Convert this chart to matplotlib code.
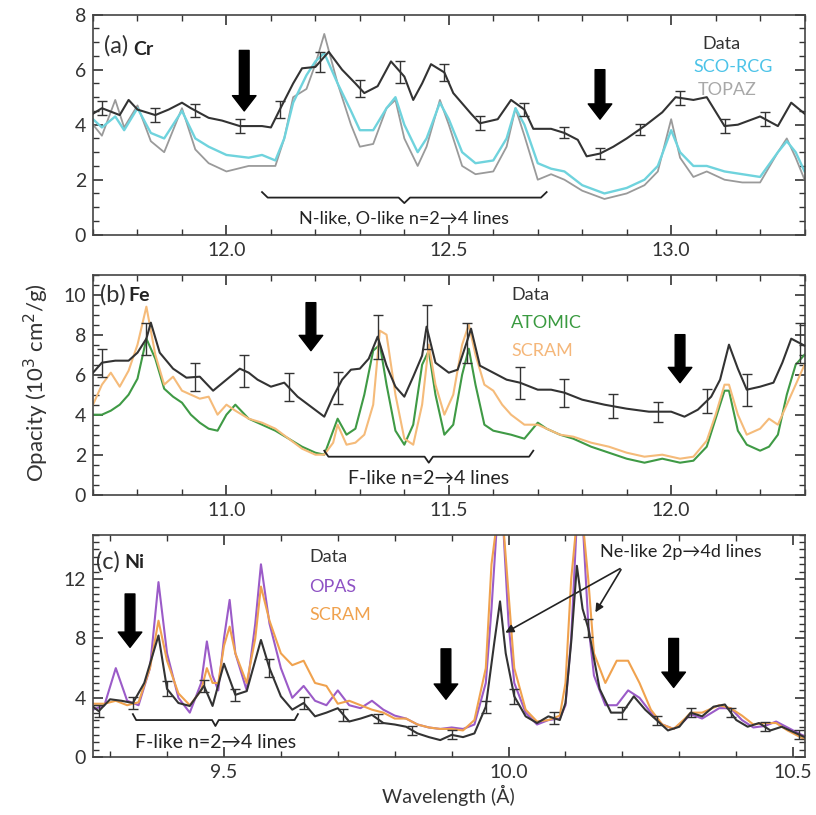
import numpy as np
import matplotlib
matplotlib.use("Agg")
from matplotlib import pyplot as plt
from matplotlib.ticker import MultipleLocator

plt.rcParams['font.family'] = ['Lato', 'DejaVu Sans']

##################################
# DATA
##################################
# (a) Cr
cr_data_x = [11.70, 11.72, 11.76, 11.78, 11.80, 11.84, 11.87, 11.90, 11.92, 11.96, 11.99, 12.03,
             12.08, 12.10, 12.12, 12.15, 12.17, 12.20, 12.23, 12.26, 12.29, 12.31, 12.34, 12.37,
             12.40, 12.42, 12.44, 12.46, 12.49, 12.51, 12.55, 12.57, 12.61, 12.64, 12.67, 12.69,
             12.73, 12.76, 12.79, 12.81, 12.84, 12.87, 12.90, 12.94, 12.98, 13.01, 13.05, 13.08,
             13.12, 13.15, 13.20, 13.24, 13.27, 13.30]
cr_data_y = [4.4, 4.6, 4.35, 4.9, 4.55, 4.35, 4.55, 4.8, 4.6, 4.25, 4.15, 3.95,
             3.95, 3.9, 4.55, 5.5, 6.05, 6.1, 6.65, 6.0, 5.5, 5.15, 5.4, 6.3,
             5.75, 4.9, 5.5, 6.2, 5.9, 5.15, 4.4, 4.05, 4.2, 4.9, 4.55, 3.85,
             3.85, 3.7, 3.45, 2.85, 2.95, 3.2, 3.5, 3.95, 4.45, 5.0, 4.9, 5.0,
             3.95, 4.0, 4.3, 3.95, 4.8, 4.4]
cr_err_x = [11.72, 11.84, 11.93, 12.03, 12.12, 12.21, 12.30, 12.39, 12.49, 12.57, 12.67, 12.76,
            12.84, 12.93, 13.02, 13.12, 13.21]
cr_err = [0.25, 0.25, 0.25, 0.25, 0.3, 0.35, 0.3, 0.4, 0.3, 0.25, 0.25, 0.2,
          0.2, 0.2, 0.25, 0.25, 0.25]

cr_x = [11.70, 11.72, 11.75, 11.77, 11.80, 11.83, 11.86, 11.90, 11.93, 11.96, 12.00, 12.05,
        12.08, 12.11, 12.13, 12.15, 12.18, 12.20, 12.22, 12.25, 12.28, 12.30, 12.33, 12.36,
        12.38, 12.40, 12.43, 12.45, 12.48, 12.50, 12.53, 12.56, 12.60, 12.63, 12.65, 12.67,
        12.70, 12.73, 12.76, 12.80, 12.85, 12.90, 12.94, 12.97, 13.00, 13.02, 13.05, 13.08,
        13.12, 13.16, 13.20, 13.24, 13.26, 13.28, 13.30]
cr_scorcg = [4.2, 3.9, 4.3, 3.8, 4.6, 3.7, 3.5, 4.5, 3.5, 3.2, 2.9, 2.8,
             2.9, 2.7, 3.5, 4.8, 5.8, 6.3, 6.6, 5.5, 4.5, 3.8, 3.8, 4.6,
             5.0, 4.0, 3.0, 3.5, 4.8, 4.2, 3.0, 2.6, 2.7, 3.5, 4.6, 4.0,
             2.6, 2.4, 2.3, 1.8, 1.5, 1.7, 2.0, 2.5, 3.8, 3.0, 2.5, 2.5,
             2.3, 2.2, 2.1, 3.0, 3.4, 3.0, 2.3]
cr_topaz = [4.0, 3.6, 4.9, 3.9, 4.7, 3.4, 3.0, 4.6, 3.1, 2.6, 2.3, 2.5,
            2.5, 2.5, 3.5, 5.0, 5.3, 6.2, 7.3, 5.5, 4.0, 3.2, 3.3, 4.6,
            4.9, 3.5, 2.5, 3.2, 4.9, 4.0, 2.5, 2.2, 2.3, 3.2, 4.6, 3.6,
            2.0, 2.2, 2.0, 1.6, 1.3, 1.5, 1.8, 2.3, 4.2, 2.8, 2.1, 2.3,
            2.0, 1.9, 1.9, 3.0, 3.5, 2.8, 2.0]

# (b) Fe
fe_data_x = [10.70, 10.72, 10.75, 10.78, 10.80, 10.82, 10.83, 10.85, 10.88, 10.91, 10.94, 10.97,
             11.00, 11.03, 11.05, 11.07, 11.10, 11.13, 11.16, 11.19, 11.22, 11.24, 11.26, 11.28,
             11.30, 11.32, 11.34, 11.36, 11.38, 11.40, 11.42, 11.44, 11.45, 11.47, 11.50, 11.52,
             11.54, 11.55, 11.57, 11.60, 11.63, 11.66, 11.70, 11.73, 11.76, 11.80, 11.85, 11.90,
             11.95, 12.00, 12.03, 12.06, 12.09, 12.11, 12.13, 12.15, 12.17, 12.20, 12.23, 12.25,
             12.27, 12.30]
fe_data_y = [6.1, 6.6, 6.7, 6.7, 7.1, 7.8, 8.6, 7.1, 6.3, 5.85, 5.9, 5.2,
             5.75, 6.3, 6.1, 5.75, 5.4, 5.6, 4.9, 4.4, 3.9, 4.9, 5.75, 6.25,
             6.3, 6.8, 7.9, 6.45, 5.4, 4.9, 5.9, 6.95, 8.4, 6.6, 6.1, 6.25,
             7.6, 8.3, 6.45, 6.1, 5.75, 5.6, 5.25, 5.25, 5.1, 4.75, 4.5, 4.3,
             4.15, 4.15, 3.9, 4.25, 4.9, 5.75, 7.5, 6.3, 5.25, 5.4, 5.6, 6.6,
             7.8, 7.45]
fe_err_x = [10.72, 10.82, 10.93, 11.04, 11.14, 11.25, 11.34, 11.45, 11.54, 11.66, 11.76, 11.87,
            11.97, 12.08, 12.17, 12.29]
fe_err = [0.7, 0.8, 0.7, 0.8, 0.7, 0.8, 1.1, 1.1, 1.0, 0.8, 0.7, 0.6,
          0.5, 0.6, 0.8, 1.0]

fe_x = [10.70, 10.72, 10.74, 10.76, 10.78, 10.80, 10.82, 10.84, 10.86, 10.88, 10.90, 10.92,
        10.94, 10.96, 10.98, 11.00, 11.02, 11.05, 11.08, 11.11, 11.14, 11.17, 11.20, 11.22,
        11.24, 11.25, 11.27, 11.29, 11.31, 11.33, 11.345, 11.36, 11.38, 11.40, 11.42, 11.44,
        11.455, 11.47, 11.49, 11.51, 11.53, 11.545, 11.56, 11.58, 11.60, 11.62, 11.64, 11.67,
        11.70, 11.72, 11.75, 11.78, 11.82, 11.86, 11.90, 11.94, 11.98, 12.02, 12.05, 12.08,
        12.10, 12.12, 12.13, 12.15, 12.17, 12.20, 12.22, 12.24, 12.26, 12.28, 12.30]
fe_atomic = [4.0, 4.0, 4.2, 4.5, 5.0, 5.8, 7.8, 6.8, 5.3, 4.9, 4.6, 4.0,
             3.6, 3.3, 3.2, 4.0, 4.5, 3.8, 3.5, 3.2, 2.8, 2.4, 2.1, 2.0,
             3.2, 3.8, 3.0, 3.3, 5.0, 7.2, 7.5, 5.5, 3.2, 2.5, 3.5, 6.5,
             7.2, 5.0, 3.0, 3.5, 6.0, 7.3, 5.5, 3.5, 3.2, 3.1, 3.0, 2.8,
             3.6, 3.3, 3.0, 2.8, 2.4, 2.1, 1.8, 1.6, 1.8, 1.6, 1.7, 2.4,
             3.8, 5.2, 5.2, 3.2, 2.5, 2.2, 2.4, 3.0, 5.0, 6.5, 7.0]
fe_scram = [4.5, 5.5, 6.1, 5.4, 6.2, 7.5, 9.4, 7.0, 5.5, 5.9, 5.2, 5.0,
            4.8, 4.9, 4.0, 4.5, 4.2, 3.8, 3.6, 3.3, 2.8, 2.3, 2.0, 2.0,
            2.6, 3.5, 2.5, 2.6, 3.0, 4.5, 8.2, 8.0, 5.0, 2.8, 2.5, 4.5,
            7.5, 5.5, 4.0, 5.0, 7.5, 8.5, 7.0, 5.5, 5.2, 4.5, 4.0, 3.5,
            3.5, 3.3, 3.0, 2.9, 2.6, 2.4, 2.1, 1.9, 2.0, 1.8, 1.9, 2.7,
            4.0, 5.5, 5.5, 4.0, 3.0, 3.3, 3.8, 3.5, 4.5, 5.5, 6.5]

# (c) Ni
ni_data_x = [9.27, 9.28, 9.30, 9.32, 9.34, 9.36, 9.385, 9.40, 9.42, 9.44, 9.465, 9.48,
             9.50, 9.52, 9.54, 9.565, 9.58, 9.60, 9.62, 9.64, 9.66, 9.68, 9.70, 9.72,
             9.74, 9.76, 9.78, 9.80, 9.82, 9.84, 9.86, 9.88, 9.90, 9.92, 9.94, 9.96,
             9.975, 9.985, 9.995, 10.01, 10.03, 10.05, 10.07, 10.09, 10.10, 10.11, 10.12, 10.13,
             10.14, 10.16, 10.18, 10.20, 10.22, 10.24, 10.26, 10.28, 10.30, 10.32, 10.34, 10.36,
             10.38, 10.40, 10.42, 10.44, 10.46, 10.48, 10.50, 10.52]
ni_data_y = [3.4, 3.1, 3.9, 3.8, 3.65, 5.0, 8.2, 4.6, 3.65, 3.45, 4.8, 3.45,
             6.3, 4.2, 4.45, 7.9, 6.0, 4.1, 3.2, 3.65, 2.75, 3.0, 3.3, 2.4,
             2.6, 2.85, 2.3, 2.2, 2.05, 1.6, 1.35, 1.15, 1.5, 1.35, 1.6, 3.4,
             7.75, 10.5, 7.0, 4.1, 2.75, 2.3, 2.75, 2.5, 3.65, 7.75, 12.9, 10.0,
             8.7, 4.6, 3.0, 3.0, 4.1, 3.2, 2.5, 1.8, 2.05, 3.0, 2.75, 3.4,
             3.55, 2.5, 2.05, 2.3, 1.8, 2.05, 1.7, 1.35]
ni_err_x = [9.28, 9.34, 9.40, 9.465, 9.52, 9.58, 9.64, 9.71, 9.77, 9.83, 9.90, 9.96,
            10.01, 10.08, 10.14, 10.20, 10.26, 10.32, 10.39, 10.45, 10.51]
ni_err = [0.4, 0.4, 0.5, 0.4, 0.4, 0.6, 0.4, 0.4, 0.3, 0.3, 0.3, 0.4,
          0.5, 0.4, 0.6, 0.4, 0.3, 0.3, 0.3, 0.3, 0.3]

ni_x = [9.27, 9.29, 9.31, 9.33, 9.35, 9.37, 9.385, 9.40, 9.42, 9.44, 9.46, 9.47,
        9.48, 9.49, 9.50, 9.51, 9.52, 9.54, 9.555, 9.565, 9.58, 9.60, 9.62, 9.64,
        9.66, 9.68, 9.70, 9.72, 9.74, 9.76, 9.78, 9.80, 9.82, 9.84, 9.86, 9.88,
        9.90, 9.92, 9.94, 9.96, 9.97, 9.98, 9.99, 10.00, 10.01, 10.03, 10.05, 10.07,
        10.09, 10.10, 10.11, 10.12, 10.13, 10.14, 10.15, 10.17, 10.19, 10.21, 10.23, 10.25,
        10.27, 10.29, 10.31, 10.32, 10.34, 10.37, 10.39, 10.41, 10.43, 10.45, 10.47, 10.49,
        10.52]
ni_opas = [3.2, 3.5, 6.0, 3.8, 3.5, 6.0, 11.8, 7.0, 4.0, 3.0, 5.0, 7.8,
           5.5, 4.5, 8.0, 10.6, 7.0, 4.5, 9.0, 13.0, 9.0, 6.0, 4.0, 4.8,
           3.8, 3.5, 4.5, 3.5, 3.3, 3.8, 3.2, 2.8, 2.6, 2.2, 2.0, 1.9,
           2.0, 1.9, 2.2, 5.0, 10.0, 16.0, 16.0, 9.0, 5.0, 3.0, 2.2, 2.5,
           2.6, 3.5, 8.0, 16.0, 16.0, 9.0, 5.5, 3.5, 3.5, 4.5, 4.0, 3.0,
           2.2, 1.9, 2.5, 2.9, 2.6, 3.3, 3.3, 2.5, 2.0, 2.1, 2.4, 2.0,
           1.4]
ni_scram = [3.6, 3.6, 3.8, 3.5, 3.7, 6.0, 9.2, 6.5, 4.3, 3.5, 4.5, 6.0,
            5.0, 5.0, 7.5, 8.8, 7.0, 5.0, 8.0, 11.5, 9.2, 7.0, 6.2, 6.5,
            5.0, 4.8, 3.6, 3.8, 3.5, 3.2, 3.0, 2.6, 2.6, 2.2, 2.0, 1.9,
            1.9, 1.8, 2.5, 6.0, 13.0, 16.0, 16.0, 11.0, 6.0, 3.2, 2.4, 2.5,
            2.8, 5.0, 12.0, 16.0, 16.0, 12.0, 7.0, 5.0, 6.5, 6.5, 5.0, 3.2,
            2.2, 1.9, 2.6, 3.0, 3.0, 3.5, 3.3, 2.8, 2.2, 2.3, 2.3, 1.8,
            1.2]

DATA_C = '#333333'


def draw_data(ax, x, y, ex, err):
    ax.plot(x, y, color=DATA_C, lw=1.5, zorder=5)
    ey = np.interp(ex, x, y)
    ax.errorbar(ex, ey, yerr=err, fmt='none', ecolor=DATA_C, elinewidth=1.0,
                capsize=3.5, capthick=1.0, zorder=6)


def fat_arrow(ax, x, y0, y1):
    ax.annotate('', xy=(x, y1), xytext=(x, y0),
                arrowprops=dict(width=7, headwidth=17, headlength=11,
                                facecolor='k', edgecolor='k'), zorder=7)


def brace(ax, x0, x1, y, d, label, ty, fs=14):
    xm = (x0 + x1) / 2
    e = (x1 - x0) * 0.02
    ax.plot([x0, x0 + e, xm - e, xm, xm + e, x1 - e, x1],
            [y + d, y, y, y - d, y, y, y + d], color='#222222', lw=1.3)
    ax.text(xm, ty, label, ha='center', va='center', fontsize=fs, color='#222222')


def style(ax, xlim, ylim, xmaj, ymaj, ymin):
    ax.set_xlim(*xlim)
    ax.set_ylim(*ylim)
    ax.xaxis.set_major_locator(MultipleLocator(xmaj))
    ax.xaxis.set_minor_locator(MultipleLocator(0.1))
    ax.yaxis.set_major_locator(MultipleLocator(ymaj))
    ax.yaxis.set_minor_locator(MultipleLocator(ymin))
    ax.tick_params(which='both', direction='in', top=True, right=True,
                   labelsize=14, colors='#333333', pad=5)
    ax.tick_params(which='major', length=7, width=1.2)
    ax.tick_params(which='minor', length=4, width=1.0)
    for s in ax.spines.values():
        s.set_color('#444444')
        s.set_linewidth(1.2)


##################################
# PLOT
##################################
fig = plt.figure(figsize=(8.16, 8.15), dpi=100)
ax_a = fig.add_axes([0.114, 0.712, 0.872, 0.270])
ax_b = fig.add_axes([0.114, 0.393, 0.872, 0.270])
ax_c = fig.add_axes([0.114, 0.071, 0.872, 0.273])

LEG = 13

# (a)
ax = ax_a
ax.plot(cr_x, cr_topaz, color='#9a9a9a', lw=1.3)
ax.plot(cr_x, cr_scorcg, color='#6fd3dd', lw=1.7)
draw_data(ax, cr_data_x, cr_data_y, cr_err_x, cr_err)
style(ax, (11.70, 13.30), (0, 8), 0.5, 2, 0.5)
fat_arrow(ax, 12.04, 6.7, 4.5)
fat_arrow(ax, 12.84, 6.0, 4.2)
brace(ax, 12.08, 12.72, 1.35, 0.2, 'N-like, O-like n=2\u21924 lines', 0.6, fs=13)
ax.text(11.725, 6.85, '(a)', fontsize=17, va='center', color='#333333')
ax.text(11.79, 6.75, 'Cr', fontsize=14, fontweight='bold', va='center', color='#222222')
ax.text(13.07, 6.95, 'Data', fontsize=LEG, color='#333333', va='center')
ax.text(13.05, 6.1, 'SCO-RCG', fontsize=LEG, color='#4cc3e8', va='center')
ax.text(13.06, 5.25, 'TOPAZ', fontsize=LEG, color='#a8a8a8', va='center')

# (b)
ax = ax_b
ax.plot(fe_x, fe_atomic, color='#3f9a45', lw=1.5)
ax.plot(fe_x, fe_scram, color='#f5bb7a', lw=1.5)
draw_data(ax, fe_data_x, fe_data_y, fe_err_x, fe_err)
style(ax, (10.70, 12.30), (0, 11), 0.5, 2, 0.5)
fat_arrow(ax, 11.19, 9.6, 7.2)
fat_arrow(ax, 12.02, 8.0, 5.6)
brace(ax, 11.22, 11.69, 1.9, 0.3, 'F-like n=2\u21924 lines', 0.8)
ax.text(10.715, 10.0, '(b)', fontsize=17, va='center', color='#333333')
ax.text(10.78, 9.95, 'Fe', fontsize=14, fontweight='bold', va='center', color='#222222')
ax.text(11.64, 10.0, 'Data', fontsize=LEG, color='#333333', va='center')
ax.text(11.64, 8.6, 'ATOMIC', fontsize=LEG, color='#3a9a40', va='center')
ax.text(11.64, 7.2, 'SCRAM', fontsize=LEG, color='#f5b77a', va='center')

# (c)
ax = ax_c
ax.plot(ni_x, ni_opas, color='#9b5bc8', lw=1.5)
ax.plot(ni_x, ni_scram, color='#f0a24e', lw=1.5)
draw_data(ax, ni_data_x, ni_data_y, ni_err_x, ni_err)
style(ax, (9.27, 10.52), (0, 15), 0.5, 4, 0.5)
fat_arrow(ax, 9.335, 11.0, 7.4)
fat_arrow(ax, 9.89, 7.3, 3.9)
fat_arrow(ax, 10.29, 8.0, 4.7)
brace(ax, 9.34, 9.63, 2.5, 0.4, 'F-like n=2\u21924 lines', 1.0)
ax.text(10.16, 13.8, 'Ne-like 2p\u21924d lines', fontsize=13, color='#222222', va='center')
for tip in [(9.99, 8.3), (10.15, 9.6)]:
    ax.annotate('', xy=tip, xytext=(10.20, 12.8),
                arrowprops=dict(arrowstyle='-|>', color='#222222', lw=1.2,
                                mutation_scale=12))
ax.text(9.275, 13.2, '(c)', fontsize=17, va='center', color='#333333')
ax.text(9.325, 13.1, 'Ni', fontsize=14, fontweight='bold', va='center', color='#222222')
ax.text(9.65, 13.5, 'Data', fontsize=LEG, color='#333333', va='center')
ax.text(9.65, 11.5, 'OPAS', fontsize=LEG, color='#8e52c4', va='center')
ax.text(9.65, 9.6, 'SCRAM', fontsize=LEG, color='#f0a24e', va='center')
ax.set_xlabel('Wavelength (\u00c5)', fontsize=14, color='#333333', labelpad=3)

fig.text(0.045, 0.53, 'Opacity (10$^3$ cm$^2$/g)', rotation=90, fontsize=16,
         ha='center', va='center', color='#333333')

fig.savefig('out.png', dpi=100)
